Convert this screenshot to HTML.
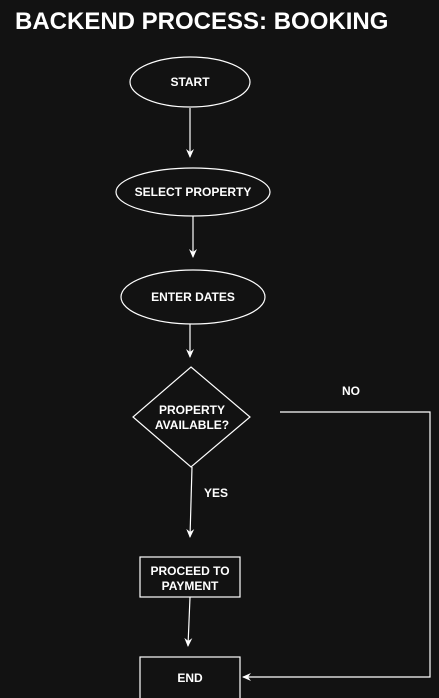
<!DOCTYPE html>
<html><head><style>
html,body{margin:0;padding:0;background:#121212;}
svg{display:block;}
text{font-family:"Liberation Sans",sans-serif;fill:#fff;}
</style></head><body>
<svg width="439" height="698" viewBox="0 0 439 698" xmlns="http://www.w3.org/2000/svg">
<defs><marker id="a" markerWidth="10" markerHeight="10" refX="8" refY="5" orient="auto" markerUnits="userSpaceOnUse"><path d="M0,1 L9,5 L0,9 L3,5 Z" fill="#fff"/></marker></defs>
<rect width="439" height="698" fill="#121212"/>
<text x="15" y="29" font-size="24" font-weight="bold">BACKEND PROCESS: BOOKING</text>
<g fill="none" stroke="#fff" stroke-width="1.2">
<ellipse cx="190" cy="82" rx="60" ry="25"/>
<ellipse cx="193" cy="192" rx="77" ry="24"/>
<ellipse cx="193" cy="297" rx="72" ry="27"/>
<polygon points="191,367 250,417 191,467 133,417"/>
<rect x="140" y="557" width="100" height="40"/>
<rect x="140" y="657" width="100" height="45"/>
<line x1="190" y1="108" x2="190" y2="157" marker-end="url(#a)"/>
<line x1="193" y1="216" x2="193" y2="257" marker-end="url(#a)"/>
<line x1="190" y1="324" x2="190" y2="357" marker-end="url(#a)"/>
<line x1="192" y1="467" x2="190" y2="537" marker-end="url(#a)"/>
<line x1="190" y1="597" x2="188" y2="646" marker-end="url(#a)"/>
<polyline points="280,412 430,412 430,677 243,677" marker-end="url(#a)"/>
</g>
<g font-size="12" font-weight="bold" text-anchor="middle">
<text x="190" y="86">START</text>
<text x="193" y="196">SELECT PROPERTY</text>
<text x="193" y="301">ENTER DATES</text>
<text x="192" y="414">PROPERTY</text>
<text x="192" y="429">AVAILABLE?</text>
<text x="190" y="575">PROCEED TO</text>
<text x="190" y="590">PAYMENT</text>
<text x="190" y="682">END</text>
<text x="216" y="497">YES</text>
<text x="351" y="395">NO</text>
</g>
</svg>
</body></html>
